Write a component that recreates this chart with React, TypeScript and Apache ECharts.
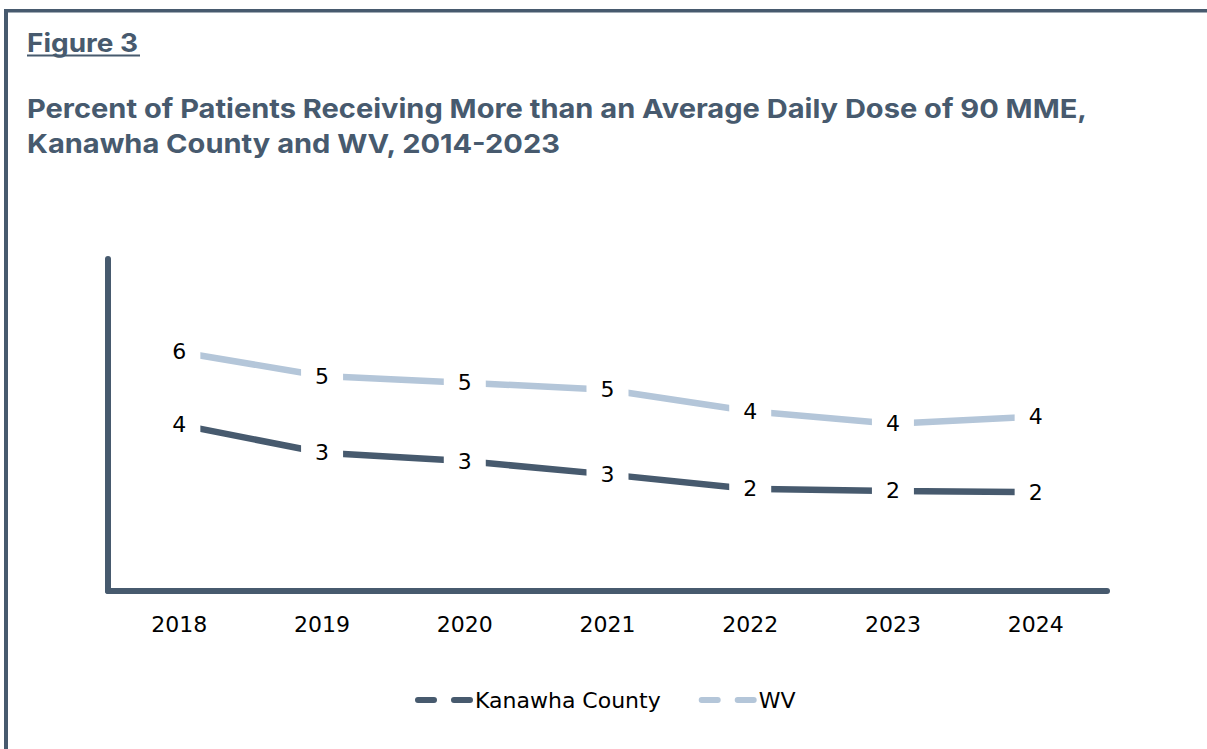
import React, { useEffect, useRef } from "react";
import * as echarts from "echarts";

const years = ["2018", "2019", "2020", "2021", "2022", "2023", "2024"];
const kanawha = [4.01, 3.33, 3.13, 2.81, 2.46, 2.41, 2.38];
const wv = [5.76, 5.18, 5.02, 4.85, 4.33, 4.03, 4.2];
const seriesNames = ["Kanawha County", "WV"];
const figureLabel = "Figure 3";
const titleLines = [
  "Percent of Patients Receiving More than an Average Daily Dose of 90 MME,",
  "Kanawha County and WV, 2014-2023",
];

const DARK = "#475a6e";
const LIGHT = "#b4c6d9";
const TITLE_FONT = "Inter, 'Liberation Sans', sans-serif";
const FONT = "'DejaVu Sans', 'Liberation Sans', sans-serif";

export default function App() {
  const ref = useRef<HTMLDivElement>(null);
  useEffect(() => {
    if (!ref.current) return;
    const chart = echarts.init(ref.current, undefined, { renderer: "svg" });
    const labelCfg = {
      show: true,
      position: "inside",
      formatter: (p: any) => String(Math.round(p.value)),
      color: "#000",
      fontSize: 22,
      fontFamily: FONT,
      backgroundColor: "#fff",
      padding: [4, 14],
    };
    const mkSeries = (name: string, data: number[], color: string) => ({
      name,
      type: "line",
      data,
      symbol: "circle",
      symbolSize: 1,
      showSymbol: true,
      itemStyle: { color },
      lineStyle: { color, width: 6.5 },
      label: labelCfg,
      emphasis: { disabled: true },
      z: 3,
    });
    chart.setOption({
      animation: false,
      backgroundColor: "#fff",
      grid: { left: 108, right: 100, top: 259, bottom: 158, containLabel: false },
      xAxis: {
        type: "category",
        data: years,
        boundaryGap: true,
        axisLine: { show: true, lineStyle: { color: DARK, width: 6 } },
        axisTick: { show: false },
        axisLabel: { color: "#000", fontSize: 22, fontFamily: FONT, margin: 22 },
      },
      yAxis: {
        type: "value",
        min: 0,
        max: 8,
        axisLine: { show: true, lineStyle: { color: DARK, width: 6 } },
        axisLabel: { show: false },
        axisTick: { show: false },
        splitLine: { show: false },
      },
      legend: {
        data: seriesNames,
        left: 410,
        top: 684,
        itemWidth: 52,
        itemHeight: 14,
        itemGap: 38,
        textStyle: { color: "#000", fontSize: 22, fontFamily: FONT },
        itemStyle: { opacity: 0 },
        lineStyle: { width: 6, type: [16, 20], cap: "round" },
      },
      graphic: [
        { type: "line", shape: { x1: 4, y1: 10.75, x2: 1207, y2: 10.75 }, style: { stroke: DARK, lineWidth: 3.5 } },
        { type: "line", shape: { x1: 6, y1: 9, x2: 6, y2: 749 }, style: { stroke: DARK, lineWidth: 4 } },
        {
          type: "text",
          x: 27,
          y: 43,
          scaleX: 1.077,
          style: { text: figureLabel, fill: DARK, font: `bold 26px ${TITLE_FONT}`, verticalAlign: "middle", align: "left" },
        },
        { type: "line", shape: { x1: 27, y1: 55.5, x2: 140, y2: 55.5 }, style: { stroke: DARK, lineWidth: 2 } },
        {
          type: "text",
          x: 27,
          y: 108.5,
          scaleX: 1.117,
          style: { text: titleLines[0], fill: DARK, font: `bold 26px ${TITLE_FONT}`, verticalAlign: "middle", align: "left" },
        },
        {
          type: "text",
          x: 27,
          y: 144,
          scaleX: 1.117,
          style: { text: titleLines[1], fill: DARK, font: `bold 26px ${TITLE_FONT}`, verticalAlign: "middle", align: "left" },
        },
      ],
      series: [mkSeries(seriesNames[0], kanawha, DARK), mkSeries(seriesNames[1], wv, LIGHT)],
    });
    return () => chart.dispose();
  }, []);
  return (
    <div
      ref={ref}
      style={{ position: "absolute", left: 0, top: 0, width: 1207, height: 749, background: "#fff" }}
    />
  );
}
